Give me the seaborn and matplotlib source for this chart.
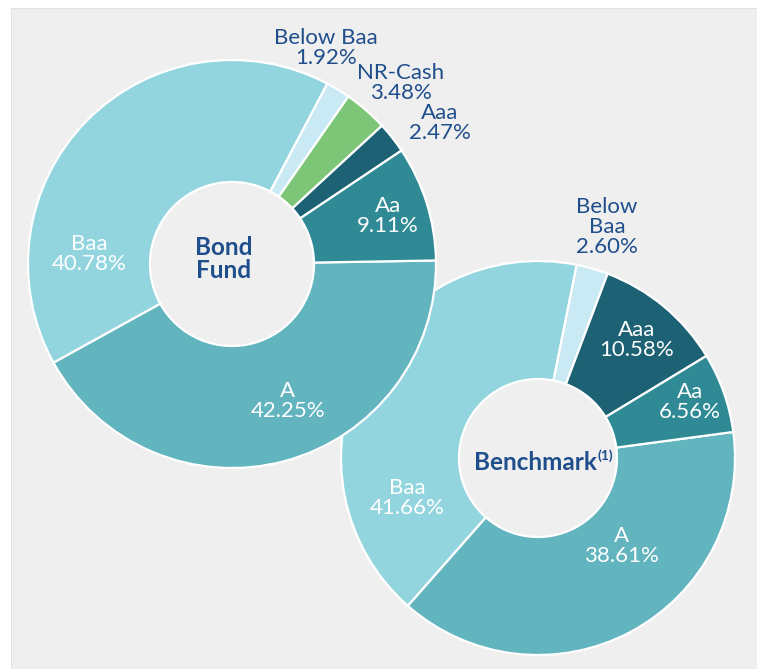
import matplotlib
matplotlib.use("Agg")
import matplotlib.pyplot as plt
from matplotlib.patches import Rectangle
import seaborn as sns

sns.set_style("white")
plt.rcParams["font.family"] = ["Lato", "DejaVu Sans"]

# Credit quality breakdown (percent of holdings)
fund_labels = ["A", "Baa", "Below Baa", "NR-Cash", "Aaa", "Aa"]
fund_values = [42.25, 40.78, 1.92, 3.48, 2.47, 9.11]

bench_labels = ["A", "Baa", "Below Baa", "Aaa", "Aa"]
bench_values = [38.61, 41.66, 2.60, 10.58, 6.56]

rating_colors = {
    "A": "#62B4BF",
    "Baa": "#92D5DE",
    "Below Baa": "#C9EAF5",
    "NR-Cash": "#7DC577",
    "Aaa": "#1C6274",
    "Aa": "#2F8A96",
}

W, H = 757, 669
TEXT_BLUE = "#1F4E8C"

fig = plt.figure(figsize=(W / 100, H / 100), dpi=100, facecolor="white")
fig.patches.append(Rectangle((11 / W, 0), 1 - 11 / W, (H - 8) / H,
                             transform=fig.transFigure, facecolor="#EFEFEF",
                             edgecolor="#DDDDDD", linewidth=0.6, zorder=-1))

ax = fig.add_axes([0, 0, 1, 1])
ax.patch.set_alpha(0)


def py(y):
    # pixel row (top-down) to data y (bottom-up)
    return H - y


def donut(labels, values, center, radius, width, start, z):
    pal = sns.color_palette([rating_colors[l] for l in labels])
    wedges, _ = ax.pie(values, colors=pal, startangle=start, counterclock=False,
                       center=(center[0], py(center[1])), radius=radius,
                       wedgeprops=dict(width=width, edgecolor="white",
                                       linewidth=1.6))
    for w in wedges:
        w.set_zorder(z)


# Benchmark underneath, fund on top
donut(bench_labels, bench_values, (538, 458), 197, 118, 7.6, 2)
donut(fund_labels, fund_values, (232, 264), 204, 122, 1.0, 4)

fs = 16
fs_bold = 17.5


def label(x, y, txt, color, z=6):
    ax.text(x, py(y), txt, ha="center", va="center", fontsize=fs,
            color=color, linespacing=0.97, zorder=z)


# Bond fund labels
label(326, 48, "Below Baa\n1.92%", TEXT_BLUE)
label(401, 83, "NR-Cash\n3.48%", TEXT_BLUE)
label(440, 123, "Aaa\n2.47%", TEXT_BLUE)
label(388, 216, "Aa\n9.11%", "white")
label(89, 254, "Baa\n40.78%", "white")
label(288, 401, "A\n42.25%", "white")
ax.text(224, py(259), "Bond\nFund", ha="center", va="center", fontsize=fs_bold,
        fontweight="bold", color=TEXT_BLUE, linespacing=0.95, zorder=6)

# Benchmark labels
label(607, 227, "Below\nBaa\n2.60%", TEXT_BLUE)
label(637, 340, "Aaa\n10.58%", "white")
label(690, 402, "Aa\n6.56%", "white")
label(407, 498, "Baa\n41.66%", "white")
label(621, 546, "A\n38.61%", "white")
ax.text(597, py(462), "Benchmark", ha="right", va="center", fontsize=fs_bold,
        fontweight="bold", color=TEXT_BLUE, zorder=6)
ax.text(597, py(456), "(1)", ha="left", va="center", fontsize=10,
        fontweight="bold", color=TEXT_BLUE, zorder=6)

ax.set_xlim(0, W)
ax.set_ylim(0, H)
ax.set_aspect("equal")
ax.axis("off")

fig.savefig("out.png", dpi=100, facecolor="white")
